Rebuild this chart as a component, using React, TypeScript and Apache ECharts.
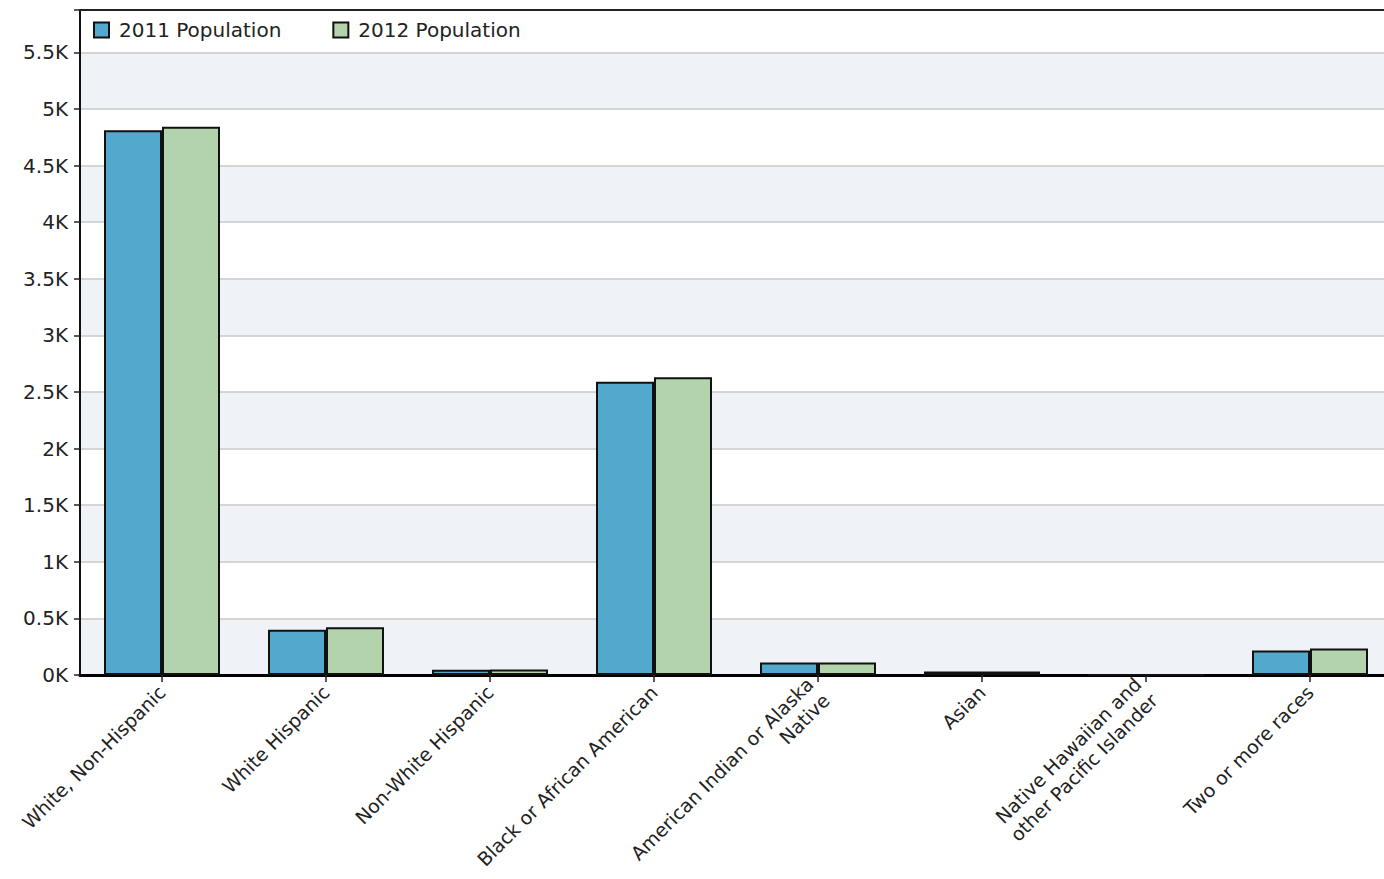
import React, { useEffect, useRef } from "react";
import * as echarts from "echarts";

const categories = [
  "White, Non-Hispanic",
  "White Hispanic",
  "Non-White Hispanic",
  "Black or African American",
  "American Indian or Alaska\nNative",
  "Asian",
  "Native Hawaiian and\nother Pacific Islander",
  "Two or more races",
];
const pop2011 = [4812, 400, 46, 2591, 111, 32, 0, 216];
const pop2012 = [4843, 422, 48, 2630, 111, 32, 0, 234];
const seriesNames = ["2011 Population", "2012 Population"];
const yTickStep = 500;
const yMax = 5875;

const FONT = "DejaVu Sans";

export default function App() {
  const ref = useRef<HTMLDivElement>(null);
  useEffect(() => {
    document.documentElement.style.overflow = "hidden";
    document.body.style.margin = "0";
    document.body.style.overflow = "hidden";
    const chart = echarts.init(ref.current!, null, { renderer: "svg" });
    chart.setOption({
      animation: false,
      backgroundColor: "#ffffff",
      grid: { left: 80, right: 0, top: 10, bottom: 204, containLabel: false, outerBoundsMode: "none" },
      legend: {
        left: 93,
        top: 20,
        padding: 0,
        itemWidth: 15,
        itemHeight: 15,
        itemGap: 51,
        icon: "rect",
        textStyle: { fontFamily: FONT, fontSize: 20, color: "#222", padding: [0, 0, 0, 5] },
        data: seriesNames,
      },
      xAxis: {
        type: "category",
        data: categories,
        axisLine: { show: true, lineStyle: { color: "#000", width: 3 } },
        axisTick: { show: true, alignWithLabel: true, length: 7, lineStyle: { color: "#222", width: 1.5 } },
        axisLabel: {
          interval: 0,
          rotate: 45,
          margin: 14,
          fontFamily: FONT,
          fontSize: 19,
          color: "#222",
          lineHeight: 23,
        },
      },
      yAxis: {
        type: "value",
        min: 0,
        max: yMax,
        interval: yTickStep,
        axisLine: { show: true, lineStyle: { color: "#111", width: 2 } },
        axisTick: { show: true, length: 6, lineStyle: { color: "#222", width: 1.5 } },
        axisLabel: {
          margin: 12,
          fontFamily: FONT,
          fontSize: 20,
          color: "#222",
          formatter: (v: number) => (v % yTickStep === 0 ? v / 1000 + "K" : ""),
        },
        splitLine: { show: true, lineStyle: { color: "#c8c8c8", width: 1.5 } },
        splitArea: { show: true, areaStyle: { color: ["#eff2f7", "#ffffff"] } },
      },
      series: [
        {
          name: seriesNames[0],
          type: "bar",
          data: pop2011,
          barWidth: 58,
          barGap: "0%",
          itemStyle: { color: "#52a9cd", borderColor: "#111", borderWidth: 2 },
        },
        {
          name: seriesNames[1],
          type: "bar",
          data: pop2012,
          barWidth: 58,
          barGap: "0%",
          itemStyle: { color: "#b3d3ad", borderColor: "#111", borderWidth: 2 },
        },
      ],
      graphic: [
        {
          type: "line",
          shape: { x1: 80, y1: 10, x2: 1392, y2: 10 },
          style: { stroke: "#222", lineWidth: 2 },
          z: 100,
        },
      ],
    });
    return () => chart.dispose();
  }, []);
  return <div ref={ref} style={{ width: 1392, height: 879 }} />;
}
